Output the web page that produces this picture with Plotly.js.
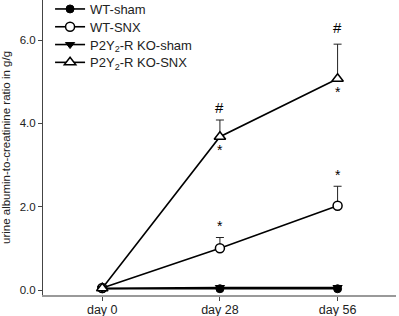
<!DOCTYPE html>
<html>
<head>
<meta charset="utf-8">
<script src="https://cdn.plot.ly/plotly-3.0.1.min.js"></script>
<style>html,body{margin:0;padding:0;background:#fff;}#chart{width:399px;height:316px;}</style>
</head>
<body>
<div id="chart"></div>
<script>
const days = [0, 28, 56];
const dayLabels = ['day 0', 'day 28', 'day 56'];

const wtSham = [0.03, 0.03, 0.03];
const wtSnx = [0.05, 1.0, 2.02];
const wtSnxErr = [0, 0.26, 0.47];
const koSham = [0.04, 0.06, 0.06];
const koSnx = [0.04, 3.68, 5.07];
const koSnxErr = [0, 0.4, 0.83];

const seriesNames = ['WT-sham', 'WT-SNX', 'P2Y<sub>2</sub>-R KO-sham', 'P2Y<sub>2</sub>-R KO-SNX'];

// significance marks: [day, value, text]
const sigDays = [28, 56, 28, 28, 56, 56];
const sigValues = [1.53, 2.77, 3.35, 4.39, 4.75, 6.3];
const sigTexts = ['*', '*', '*', '#', '*', '#'];

const lineStyle = {color: '#000', width: 1.6};
const errStyle = (arr) => ({type: 'data', symmetric: false, array: arr, arrayminus: [0,0,0], color: '#222', thickness: 1, width: 4});

const traces = [
  {x: days, y: wtSham, name: seriesNames[0], mode: 'lines+markers', line: lineStyle,
   marker: {symbol: 'circle', size: 8, color: '#000', line: {color: '#000', width: 1}}},
  {x: days, y: wtSnx, name: seriesNames[1], mode: 'lines+markers', line: lineStyle,
   error_y: errStyle(wtSnxErr),
   marker: {symbol: 'circle', size: 9, color: '#fff', line: {color: '#000', width: 1.5}}},
  {x: days, y: koSham, name: seriesNames[2], mode: 'lines+markers', line: lineStyle,
   marker: {symbol: 'triangle-down', size: 8, color: '#000', line: {color: '#000', width: 1}}},
  {x: days, y: koSnx, name: seriesNames[3], mode: 'lines+markers', line: lineStyle,
   error_y: errStyle(koSnxErr),
   marker: {symbol: 'triangle-up', size: 10, color: '#fff', line: {color: '#000', width: 1.5}}}
];

const annotations = sigDays.map((d, i) => ({
  x: d, y: sigValues[i], xref: 'x', yref: 'y', text: sigTexts[i], showarrow: false,
  font: {family: 'Liberation Sans, Arial, sans-serif', size: sigTexts[i] === '#' ? 15 : 14, color: '#000'}
}));

const layout = {
  width: 399, height: 316,
  margin: {l: 43, r: 3, t: 0, b: 21, pad: 0},
  paper_bgcolor: '#fff', plot_bgcolor: '#fff',
  font: {family: 'Liberation Sans, Arial, sans-serif', size: 11, color: '#222'},
  showlegend: true,
  legend: {x: 0.02, y: 1.0, xanchor: 'left', yanchor: 'top', bgcolor: 'rgba(0,0,0,0)',
           font: {size: 13, color: '#222'}, tracegroupgap: 0, itemwidth: 30},
  xaxis: {range: [-14.1, 69.9], tickvals: days, ticktext: dayLabels, showgrid: false, zeroline: false,
          showline: true, linecolor: '#999', linewidth: 1.5, ticks: 'outside', ticklen: 4, tickcolor: '#444',
          tickfont: {size: 12.5, color: '#222'}, ticklabelstandoff: -2, fixedrange: true},
  yaxis: {range: [-0.12, 6.96], tickvals: [0, 2, 4, 6], ticktext: ['0.0', '2.0', '4.0', '6.0'],
          showgrid: false, zeroline: false, showline: true, linecolor: '#444', linewidth: 1,
          ticks: 'outside', ticklen: 4, tickcolor: '#444', tickfont: {size: 11.5, color: '#222'},
          title: {text: 'urine albumin-to-creatinine ratio in g/g', font: {size: 11.5, color: '#222'}, standoff: 7}},
  annotations: annotations
};

Plotly.newPlot('chart', traces, layout, {displayModeBar: false, staticPlot: true}).then(function (gd) {
  // nudge legend block up and tighten row spacing to match the reference
  const lg = gd.querySelector('.legend');
  if (lg) {
    const t = lg.getAttribute('transform') || '';
    const m = t.match(/translate\(([-\d.]+),\s*([-\d.]+)\)/);
    if (m) lg.setAttribute('transform', 'translate(' + m[1] + ',' + (parseFloat(m[2]) - 6) + ')');
    const items = lg.querySelectorAll('.traces');
    let y0 = null;
    items.forEach(function (it, i) {
      const tt = it.getAttribute('transform') || '';
      const mm = tt.match(/translate\(([-\d.]+),\s*([-\d.]+)\)/);
      if (!mm) return;
      if (y0 === null) y0 = parseFloat(mm[2]);
      it.setAttribute('transform', 'translate(' + mm[1] + ',' + (y0 + i * 17.8) + ')');
    });
  }
});
</script>
</body>
</html>
